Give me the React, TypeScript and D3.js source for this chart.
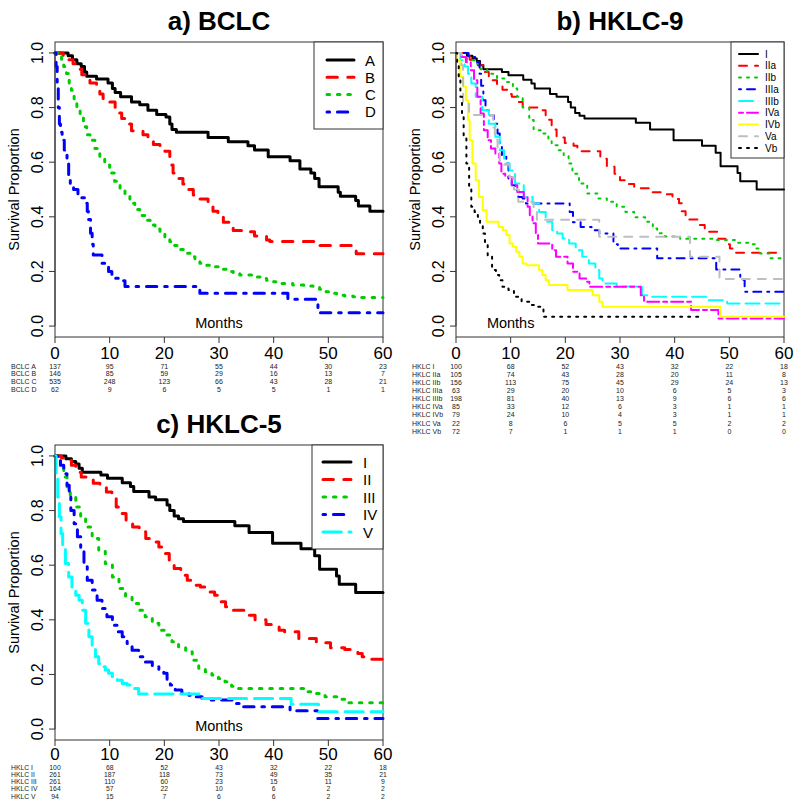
import React from 'react';
import * as d3 from 'd3';

type Pt = [number, number];

// ---------- shared axis data ----------
const MONTH_TICKS = [0, 10, 20, 30, 40, 50, 60];
const SURV_TICKS = [0, 0.2, 0.4, 0.6, 0.8, 1.0];

// ---------- a) BCLC ----------
const BCLC_A: Pt[] = [[0,1],[2.4,0.99],[3.2,0.975],[4,0.96],[4.8,0.95],[5.4,0.93],[5.8,0.915],[7.6,0.905],[9.7,0.89],[10.5,0.87],[11,0.855],[12,0.84],[14,0.82],[15.5,0.81],[17,0.79],[18.6,0.775],[20.3,0.765],[21,0.74],[21.4,0.72],[22.2,0.71],[28,0.69],[31.7,0.675],[35.3,0.66],[36.5,0.645],[39,0.62],[43,0.605],[44.8,0.575],[46.8,0.56],[47.5,0.54],[48.3,0.51],[51.8,0.49],[52.2,0.475],[55,0.46],[55.5,0.44],[57.6,0.42]];
const BCLC_B: Pt[] = [[0,1],[1.5,0.99],[2.4,0.975],[3.3,0.96],[4.3,0.94],[4.9,0.92],[5.5,0.905],[6.4,0.89],[7.6,0.87],[8.2,0.85],[8.8,0.83],[10,0.82],[11,0.80],[11.6,0.78],[12.2,0.76],[12.8,0.74],[14,0.715],[16.1,0.70],[17,0.68],[18,0.665],[19.2,0.65],[20.1,0.64],[21,0.61],[21.3,0.59],[21.6,0.56],[22.5,0.54],[23.4,0.52],[24,0.50],[25.3,0.48],[26.5,0.465],[28,0.44],[28.9,0.42],[29.8,0.40],[30.8,0.38],[32.6,0.35],[35,0.345],[36.5,0.33],[38.7,0.315],[39.3,0.31],[47.5,0.295],[55.1,0.265]];
const BCLC_C: Pt[] = [[0,1],[0.6,0.99],[1.2,0.975],[1.6,0.95],[2.1,0.925],[2.6,0.89],[3,0.863],[3.5,0.83],[4,0.80],[4.6,0.765],[5.2,0.73],[5.8,0.70],[6.4,0.68],[7.3,0.65],[8.2,0.62],[9.1,0.59],[10,0.56],[10.9,0.53],[11.9,0.50],[12.8,0.475],[13.7,0.45],[14.6,0.427],[15.5,0.405],[16.4,0.387],[17.4,0.37],[18.3,0.355],[19.2,0.34],[20.1,0.325],[21,0.31],[21.9,0.295],[22.8,0.28],[23.7,0.267],[24.7,0.254],[25.6,0.242],[26.5,0.23],[27.7,0.223],[28.9,0.217],[30.1,0.208],[31.4,0.2],[32.6,0.193],[33.8,0.187],[36.2,0.18],[37.5,0.174],[38.7,0.168],[40,0.162],[41.1,0.156],[43.5,0.15],[45.5,0.147],[47.2,0.144],[48.4,0.135],[49.6,0.126],[50.5,0.12],[51.5,0.113],[53,0.11],[54.5,0.107],[56,0.105]];
const BCLC_D: Pt[] = [[0,1],[0.2,0.95],[0.4,0.88],[0.6,0.8],[0.8,0.74],[1,0.71],[1.3,0.68],[1.7,0.645],[2.2,0.6],[2.5,0.55],[2.8,0.52],[3.4,0.5],[4.2,0.47],[5.4,0.45],[5.9,0.42],[6.1,0.39],[6.5,0.34],[6.8,0.30],[7,0.26],[8.6,0.23],[9.8,0.2],[10.4,0.19],[11,0.175],[11.6,0.166],[12.8,0.145],[26.5,0.12],[42.6,0.098],[48.1,0.049]];
const BCLC_NAMES = ['A', 'B', 'C', 'D'];
const BCLC_RISK_LABELS = ['BCLC A', 'BCLC B', 'BCLC C', 'BCLC D'];
const BCLC_RISK = [
  [137, 95, 71, 55, 44, 30, 23],
  [146, 85, 59, 29, 16, 13, 7],
  [535, 248, 123, 66, 43, 28, 21],
  [62, 9, 6, 5, 5, 1, 1],
];

// ---------- b) HKLC-9 ----------
const HKLC_I: Pt[] = [[0,1],[2,0.99],[3,0.98],[3.8,0.97],[4.4,0.955],[5,0.94],[8.4,0.93],[9.6,0.918],[12.3,0.902],[13.8,0.888],[14.4,0.87],[17.2,0.85],[18.4,0.84],[20.5,0.82],[21,0.80],[21.8,0.78],[22.6,0.77],[23.5,0.76],[32.9,0.744],[35.5,0.72],[39.8,0.68],[45,0.66],[47.5,0.635],[48.4,0.585],[51.5,0.56],[52,0.53],[55,0.50]];
const HKLC_IIa: Pt[] = [[0,1],[1.5,0.99],[2.5,0.975],[4,0.955],[5,0.93],[6,0.9],[7.5,0.88],[8.5,0.865],[9.6,0.85],[10.2,0.84],[11,0.82],[12.2,0.80],[15.5,0.79],[16.4,0.77],[17,0.755],[17.5,0.72],[18.4,0.69],[19.9,0.67],[21.5,0.66],[22.2,0.64],[26.4,0.613],[27.6,0.583],[29,0.558],[30,0.534],[31.2,0.52],[32.6,0.505],[35.6,0.49],[37.6,0.483],[39.6,0.465],[40.8,0.45],[41.3,0.42],[42,0.39],[44.2,0.37],[45.5,0.345],[48,0.32],[49.3,0.3],[50.1,0.284],[51.2,0.268]];
const HKLC_IIb: Pt[] = [[0,1],[1,0.985],[2,0.973],[3.5,0.96],[4.5,0.94],[5.7,0.924],[7.5,0.906],[9.3,0.894],[10.4,0.87],[11.2,0.84],[12.2,0.80],[13.4,0.754],[14.2,0.717],[16,0.705],[16.9,0.68],[17.5,0.662],[18.7,0.644],[19.7,0.626],[20.6,0.595],[21.3,0.558],[22.5,0.522],[24,0.485],[26,0.467],[27.6,0.455],[29.4,0.437],[31,0.418],[32.6,0.398],[34.6,0.382],[36,0.357],[36.8,0.34],[38.2,0.328],[41,0.32],[47.5,0.315],[51.5,0.305],[53.5,0.30],[54.8,0.284],[55.6,0.266],[57.5,0.248]];
const HKLC_IIIa: Pt[] = [[0,1],[2.3,0.985],[3.5,0.967],[4.3,0.924],[4.6,0.88],[5,0.827],[5.4,0.79],[6,0.772],[6.9,0.741],[7.6,0.705],[8,0.668],[8.4,0.62],[9.2,0.595],[9.6,0.54],[10.2,0.516],[10.8,0.498],[11.4,0.473],[12.2,0.467],[12.8,0.449],[20.8,0.418],[21.4,0.38],[22.8,0.363],[24.8,0.351],[26.2,0.339],[28.8,0.30],[29.6,0.284],[36.8,0.248],[47.6,0.207],[52,0.17],[52.8,0.126]];
const HKLC_IIIb: Pt[] = [[0,1],[0.8,0.973],[1.6,0.95],[2.2,0.924],[2.8,0.888],[3.6,0.84],[4.8,0.79],[6,0.741],[7.2,0.693],[8,0.644],[8.8,0.595],[9.8,0.57],[10.8,0.522],[12.4,0.473],[14,0.449],[15.2,0.418],[16.4,0.382],[17.6,0.351],[18.5,0.339],[19.5,0.321],[20.7,0.302],[21.9,0.278],[23.1,0.254],[24.3,0.229],[25.5,0.205],[26.2,0.174],[26.8,0.156],[29.4,0.145],[34,0.113],[35,0.107],[45.8,0.095],[49.6,0.083]];
const HKLC_IVa: Pt[] = [[0,1],[1,0.985],[1.8,0.967],[2.7,0.937],[3.3,0.9],[3.9,0.84],[4.5,0.778],[5.1,0.717],[5.8,0.68],[6.4,0.65],[7.2,0.632],[7.9,0.595],[8.3,0.558],[9,0.546],[10.2,0.516],[11.2,0.491],[12.4,0.473],[13.1,0.437],[13.5,0.406],[14,0.376],[14.6,0.339],[15,0.302],[17.6,0.278],[18.3,0.254],[20.4,0.229],[21.4,0.199],[22.6,0.174],[23.8,0.162],[24.4,0.144],[33.8,0.113],[34.4,0.089],[43,0.059],[48,0.028]];
const HKLC_IVb: Pt[] = [[0,1],[0.2,0.973],[0.7,0.912],[1.3,0.876],[1.8,0.827],[2.2,0.754],[2.5,0.68],[3,0.595],[3.6,0.534],[4.2,0.473],[4.9,0.424],[5.6,0.382],[7.8,0.363],[8.6,0.351],[9.2,0.333],[9.8,0.302],[10.4,0.29],[11,0.272],[11.6,0.254],[12.2,0.229],[12.9,0.223],[15.2,0.205],[15.8,0.187],[16.4,0.168],[17,0.15],[20.4,0.132],[25,0.113],[26.2,0.089],[26.8,0.071],[48.3,0.034]];
const HKLC_Va: Pt[] = [[0,1],[1,0.955],[1.3,0.818],[2.4,0.773],[6.8,0.727],[7.1,0.682],[7.6,0.636],[8,0.591],[9.8,0.545],[10.6,0.5],[11.4,0.455],[14.2,0.42],[14.8,0.389],[26.2,0.327],[42.8,0.254],[48.2,0.172]];
const HKLC_Vb: Pt[] = [[0,1],[0.2,0.96],[0.5,0.9],[0.8,0.84],[1.1,0.766],[1.4,0.693],[1.9,0.595],[2.4,0.51],[2.8,0.437],[3.4,0.418],[4,0.40],[4.4,0.376],[4.9,0.339],[5.3,0.302],[5.8,0.254],[6.6,0.205],[7.3,0.187],[7.9,0.168],[8.5,0.144],[9.6,0.132],[10.6,0.107],[12,0.089],[13.4,0.077],[14.6,0.071],[16,0.034]];
const HKLC_Vb_END = 45;
const HKLC9_NAMES = ['I', 'IIa', 'IIb', 'IIIa', 'IIIb', 'IVa', 'IVb', 'Va', 'Vb'];
const HKLC9_RISK_LABELS = ['HKLC I', 'HKLC IIa', 'HKLC IIb', 'HKLC IIIa', 'HKLC IIIb', 'HKLC IVa', 'HKLC IVb', 'HKLC Va', 'HKLC Vb'];
const HKLC9_RISK = [
  [100, 68, 52, 43, 32, 22, 18],
  [105, 74, 43, 28, 20, 11, 8],
  [156, 113, 75, 45, 29, 24, 13],
  [63, 29, 20, 10, 6, 5, 3],
  [198, 81, 40, 13, 9, 6, 6],
  [85, 33, 12, 6, 3, 1, 1],
  [79, 24, 10, 4, 3, 1, 1],
  [22, 8, 6, 5, 5, 2, 2],
  [72, 7, 1, 1, 1, 0, 0],
];

// ---------- c) HKLC-5 ----------
const HKLC5_II: Pt[] = [[0,1],[1.2,0.992],[2,0.984],[3,0.966],[3.8,0.94],[4.8,0.923],[5.8,0.917],[7,0.9],[8.2,0.884],[9.4,0.868],[10.4,0.844],[11.2,0.813],[12.1,0.789],[13,0.758],[14.2,0.74],[15.4,0.722],[16.6,0.698],[17.8,0.685],[19,0.667],[20,0.643],[20.9,0.618],[21.8,0.588],[23,0.563],[24.2,0.545],[25.4,0.527],[26.6,0.52],[27.8,0.502],[29.2,0.49],[30.4,0.466],[31.2,0.448],[32.4,0.435],[34.6,0.417],[36.6,0.40],[38.6,0.383],[40,0.374],[41,0.362],[42,0.356],[44.6,0.332],[47.8,0.316],[50.4,0.298],[53,0.291],[54.5,0.287],[55.4,0.277],[56.2,0.265],[57,0.256]];
const HKLC5_III: Pt[] = [[0,1],[0.5,0.984],[1,0.96],[1.6,0.923],[2.2,0.887],[2.8,0.856],[3.8,0.813],[4.7,0.777],[5.6,0.74],[6.8,0.698],[8,0.655],[9.2,0.606],[10.5,0.557],[11.7,0.515],[12.9,0.484],[14.1,0.46],[15.3,0.435],[16.5,0.411],[17.8,0.387],[19,0.362],[20.2,0.344],[21.4,0.32],[22.6,0.301],[23.9,0.283],[25.1,0.252],[26.3,0.222],[27.5,0.21],[28.7,0.198],[29.9,0.185],[31.1,0.173],[32.3,0.157],[33.2,0.149],[45.5,0.137],[47,0.13],[49.4,0.118],[52,0.109],[53,0.096]];
const HKLC5_IV: Pt[] = [[0,1],[0.5,0.984],[1,0.966],[1.6,0.935],[2.2,0.893],[2.6,0.85],[2.9,0.80],[3.5,0.752],[4.1,0.704],[4.7,0.655],[5.3,0.594],[5.9,0.545],[6.8,0.509],[7.7,0.472],[8.6,0.441],[9.5,0.411],[10.5,0.38],[11.4,0.356],[12.3,0.338],[13.2,0.313],[14.1,0.289],[15.3,0.265],[16.5,0.246],[17.8,0.228],[19,0.216],[19.9,0.204],[20.5,0.179],[21.1,0.161],[22,0.143],[23.2,0.133],[24.5,0.124],[25.7,0.118],[26.9,0.112],[28.5,0.106],[33.2,0.094],[34.2,0.082],[43,0.067],[48,0.039]];
const HKLC5_V: Pt[] = [[0,1],[0.2,0.923],[0.5,0.85],[0.8,0.777],[1.1,0.716],[1.4,0.667],[1.9,0.606],[2.5,0.557],[3.1,0.52],[3.8,0.49],[4.4,0.472],[5,0.435],[5.6,0.387],[6.2,0.338],[6.8,0.301],[7.4,0.265],[8,0.24],[8.6,0.228],[9.2,0.216],[9.8,0.204],[10.5,0.185],[11.4,0.179],[12.3,0.167],[13.2,0.161],[14.1,0.149],[15.3,0.128],[26.6,0.112],[43.2,0.091],[48.2,0.063]];
const HKLC5_NAMES = ['I', 'II', 'III', 'IV', 'V'];
const HKLC5_RISK_LABELS = ['HKLC I', 'HKLC II', 'HKLC III', 'HKLC IV', 'HKLC V'];
const HKLC5_RISK = [
  [100, 68, 52, 43, 32, 22, 18],
  [261, 187, 118, 73, 49, 35, 21],
  [261, 110, 60, 23, 15, 11, 9],
  [164, 57, 22, 10, 6, 2, 2],
  [94, 15, 7, 6, 6, 2, 2],
];

// ---------- styles ----------
const COLORS = ['#000000', '#FF0000', '#00CD00', '#0000FF', '#00FFFF', '#FF00FF', '#FFFF00', '#BEBEBE', '#000000'];
const LTY: number[][] = [[], [4, 4], [1, 3], [1, 3, 4, 3], [7, 3], [2, 2, 6, 2]];
const FONT = "'Liberation Sans', Arial, sans-serif";

interface Series { data: Pt[]; end: number; }
interface LegendSpec { x0: number; x1: number; y0: number; y1: number; itemY: number; step: number; lx0: number; lx1: number; tx: number; fs: number; }
interface PanelProps {
  ox: number; oy: number; title: string; series: Series[]; names: string[];
  riskLabels: string[]; risk: number[][]; riskY: number; riskStep: number; riskFs: number;
  xLabelY: number;
  lwd: number; unit: number; legend: LegendSpec; monthsT: number;
}

function Panel(p: PanelProps) {
  const x = d3.scaleLinear().domain([0, 60]).range([55, 383]);
  const y = d3.scaleLinear().domain([-0.04, 1.04]).range([337, 42]);
  const line = d3.line<Pt>().x(d => x(d[0])).y(d => y(d[1])).curve(d3.curveStepAfter);
  const dash = (i: number) => {
    const l = LTY[i % 6];
    return l.length ? l.map(v => v * p.unit).join(',') : undefined;
  };
  const L = p.legend;
  return (
    <g transform={`translate(${p.ox},${p.oy})`} fontFamily={FONT}>
      <text x={219} y={30} textAnchor="middle" fontSize={26} fontWeight="bold">{p.title}</text>
      <rect x={55} y={42} width={328} height={295} fill="none" stroke="#333" strokeWidth={1} />
      {p.series.map((s, i) => {
        const pts: Pt[] = [...s.data, [s.end, s.data[s.data.length - 1][1]]];
        return (
          <path key={i} d={line(pts) || ''} fill="none" stroke={COLORS[i]} strokeWidth={p.lwd}
            strokeDasharray={dash(i)} strokeLinecap="round" strokeLinejoin="round" />
        );
      })}
      {/* y axis */}
      <line x1={55} x2={55} y1={y(0)} y2={y(1)} stroke="#333" />
      {SURV_TICKS.map(v => (
        <g key={v}>
          <line x1={49} x2={55} y1={y(v)} y2={y(v)} stroke="#333" />
          <text transform={`translate(37,${y(v)}) rotate(-90)`} textAnchor="middle" dominantBaseline="central" fontSize={16}>{v.toFixed(1)}</text>
        </g>
      ))}
      <text transform={`translate(14,189.5) rotate(-90)`} textAnchor="middle" dominantBaseline="central" fontSize={14.5}>Survival Proportion</text>
      {/* x axis */}
      {MONTH_TICKS.map(v => (
        <g key={v}>
          <line x1={x(v)} x2={x(v)} y1={337} y2={343} stroke="#333" />
          <text x={x(v)} y={p.xLabelY} textAnchor="middle" fontSize={17}>{v}</text>
        </g>
      ))}
      <text x={x(p.monthsT)} y={323} textAnchor="middle" dominantBaseline="central" fontSize={14.5}>Months</text>
      {/* legend */}
      <rect x={L.x0} y={L.y0} width={L.x1 - L.x0} height={L.y1 - L.y0} fill="white" stroke="#333" />
      {p.names.map((n, i) => (
        <g key={n}>
          <line x1={L.lx0} x2={L.lx1} y1={L.itemY + i * L.step} y2={L.itemY + i * L.step}
            stroke={COLORS[i]} strokeWidth={p.lwd} strokeDasharray={dash(i)} strokeLinecap="round" />
          <text x={L.tx} y={L.itemY + i * L.step} dominantBaseline="central" fontSize={L.fs}>{n}</text>
        </g>
      ))}
      {/* risk table */}
      {p.risk.map((row, r) => (
        <g key={r} fontSize={p.riskFs} fill="#222">
          <text x={11} y={p.riskY + r * p.riskStep} dominantBaseline="central">{p.riskLabels[r]}</text>
          {row.map((v, k) => (
            <text key={k} x={x(MONTH_TICKS[k])} y={p.riskY + r * p.riskStep} textAnchor="middle" dominantBaseline="central">{v}</text>
          ))}
        </g>
      ))}
    </g>
  );
}

export default function App() {
  const sA = [BCLC_A, BCLC_B, BCLC_C, BCLC_D].map(d => ({ data: d, end: 60 }));
  const sB = [HKLC_I, HKLC_IIa, HKLC_IIb, HKLC_IIIa, HKLC_IIIb, HKLC_IVa, HKLC_IVb, HKLC_Va, HKLC_Vb]
    .map((d, i) => ({ data: d, end: i === 8 ? HKLC_Vb_END : 60 }));
  const sC = [HKLC_I, HKLC5_II, HKLC5_III, HKLC5_IV, HKLC5_V].map(d => ({ data: d, end: 60 }));
  return (
    <svg width={800} height={802} style={{ position: 'absolute', left: 0, top: 0, background: 'white' }}>
      <rect width={800} height={802} fill="white" />
      <Panel ox={0} oy={0} title="a) BCLC" series={sA} names={BCLC_NAMES}
        riskLabels={BCLC_RISK_LABELS} risk={BCLC_RISK} riskY={366} riskStep={7.9} riskFs={7}
        xLabelY={359}
        lwd={3} unit={2.6} monthsT={30}
        legend={{ x0: 314, x1: 383, y0: 42, y1: 129, itemY: 60, step: 17.3, lx0: 327, lx1: 354, tx: 365, fs: 15 }} />
      <Panel ox={401} oy={0} title="b) HKLC-9" series={sB} names={HKLC9_NAMES}
        riskLabels={HKLC9_RISK_LABELS} risk={HKLC9_RISK} riskY={366} riskStep={8.15} riskFs={7}
        xLabelY={359}
        lwd={2} unit={2} monthsT={10}
        legend={{ x0: 330, x1: 383, y0: 42, y1: 158, itemY: 54, step: 11.75, lx0: 338, lx1: 357, tx: 364, fs: 10 }} />
      <Panel ox={0} oy={403} title="c) HKLC-5" series={sC} names={HKLC5_NAMES}
        riskLabels={HKLC5_RISK_LABELS} risk={HKLC5_RISK} riskY={364} riskStep={7.3} riskFs={6.8}
        xLabelY={357}
        lwd={3} unit={2.6} monthsT={30}
        legend={{ x0: 312, x1: 383, y0: 42, y1: 146, itemY: 59, step: 17.5, lx0: 323, lx1: 351, tx: 363, fs: 15 }} />
    </svg>
  );
}
